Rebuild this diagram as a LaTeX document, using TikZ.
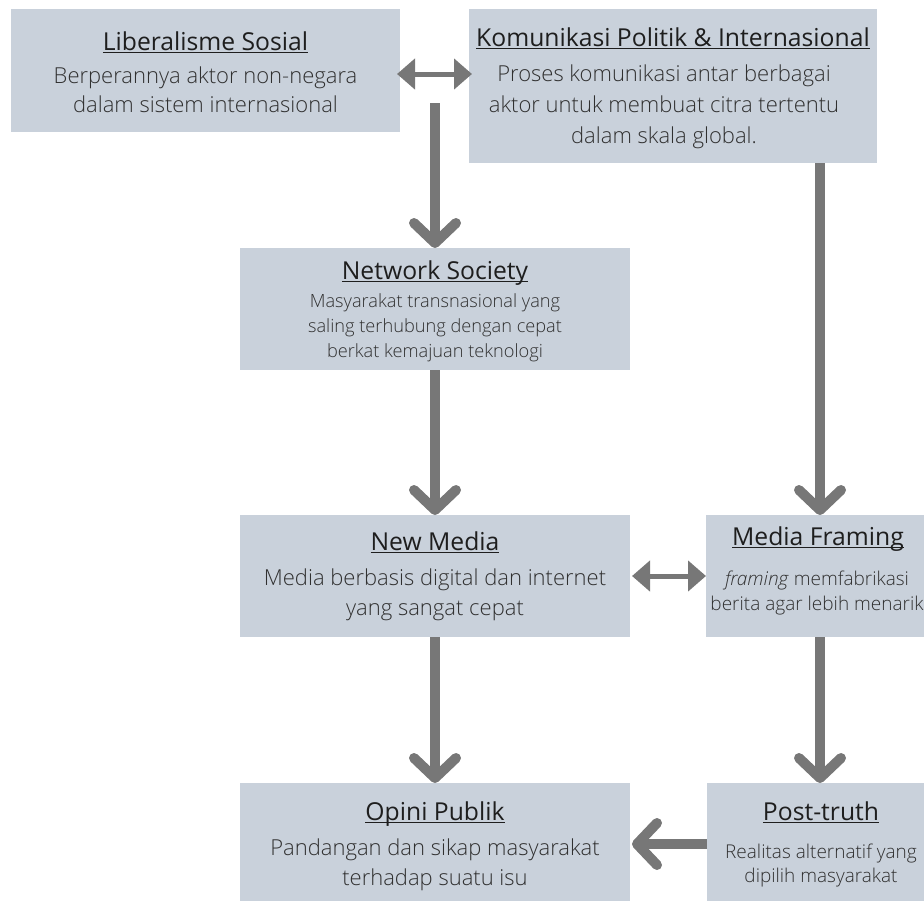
\documentclass[tikz,border=0pt]{standalone}
\usepackage{fontspec}
\setmainfont{Open Sans}
\newfontfamily\lightfont{Open Sans Light}
\usetikzlibrary{arrows.meta}
\definecolor{boxc}{HTML}{C9D1DB}
\definecolor{arrc}{HTML}{777777}
\definecolor{ttlc}{HTML}{1E1E1E}
\definecolor{txtc}{HTML}{303030}
\newcommand\ttl[1]{\setbox0\hbox{#1}\rlap{\vrule height -1.5pt depth 3.3pt width \wd0}\box0}
\begin{document}
\begin{tikzpicture}[x=1pt,y=-1pt,
  box/.style={fill=boxc, draw=none, inner sep=0pt, outer sep=0pt},
  ttlnode/.style={anchor=base, inner sep=0pt, text=ttlc, font=\fontsize{24.7}{28}\selectfont},
  bodybig/.style={anchor=base, inner sep=0pt, align=center, text=txtc, font=\lightfont\fontsize{22}{#1}\selectfont},
  bodysmall/.style={anchor=base, inner sep=0pt, align=center, text=txtc, font=\lightfont\fontsize{18.2}{#1}\selectfont},
  bodymid/.style={anchor=base, inner sep=0pt, align=center, text=txtc, font=\lightfont\fontsize{19}{#1}\selectfont},
  down/.style={draw=arrc, line width=10pt, -{Straight Barb[length=20pt, width=42pt, round]}},
  dbl/.style={draw=arrc, line width=5pt, {Triangle[length=18pt, width=30pt]}-{Triangle[length=18pt, width=30pt]}}
]
\useasboundingbox (0,0) rectangle (924,900);

% boxes
\node[box, minimum width=389pt, minimum height=123pt] (b1) at (205.5,70.5) {};
\node[box, minimum width=408pt, minimum height=154pt] (b2) at (673,86) {};
\node[box, minimum width=390pt, minimum height=122pt] (ns) at (435,309) {};
\node[box, minimum width=390pt, minimum height=122pt] (nm) at (435,576) {};
\node[box, minimum width=226pt, minimum height=122pt] (mf) at (819,576) {};
\node[box, minimum width=390pt, minimum height=122pt] (op) at (435,844) {};
\node[box, minimum width=226pt, minimum height=122pt] (pt) at (820,844) {};

% texts (body nodes anchored at the baseline of their last line)
\node[ttlnode] (b1t) at (205.5,50) {\ttl{Liberalisme Sosial}};
\node[bodybig=29pt] (b1d) at (205.5,112) {Berperannya aktor non-negara\\dalam sistem internasional};

\node[ttlnode] (b2t) at (673,46) {\ttl{Komunikasi Politik \& Internasional}};
\node[bodybig=31pt] (b2d) at (664,143) {Proses komunikasi antar berbagai\\aktor untuk membuat citra tertentu\\dalam skala global.};

\node[ttlnode] (nst) at (435,279) {\ttl{Network Society}};
\node[bodysmall=25pt] (nsd) at (435,357) {Masyarakat transnasional yang\\saling terhubung dengan cepat\\berkat kemajuan teknologi};

\node[ttlnode] (nmt) at (435,550) {\ttl{New Media}};
\node[bodybig=30pt] (nmd) at (435,615) {Media berbasis digital dan internet\\yang sangat cepat};

\node[ttlnode] (mft) at (818,545) {\ttl{Media Framing}};
\node[bodymid=25pt] (mfd) at (817,610) {\textit{framing} memfabrikasi\\berita agar lebih menarik};

\node[ttlnode] (opt) at (435,820) {\ttl{Opini Publik}};
\node[bodybig=30pt] (opd) at (435,885) {Pandangan dan sikap masyarakat\\terhadap suatu isu};

\node[ttlnode] (ptt) at (821,820) {\ttl{Post-truth}};
\node[bodymid=24pt] (ptd) at (821,882) {Realitas alternatif yang\\dipilih masyarakat};

% connectors
\coordinate (c1) at (435,103);
\coordinate (c4) at (820,163);
\draw[dbl] ([xshift=-3pt,yshift=-3.5pt]b1.east) -- ([xshift=3pt,yshift=12pt]b2.west);
\draw[down] (c1) -- (ns.north);
\draw[down] (ns.south) -- (nm.north);
\draw[down] (nm.south) -- (op.north);
\draw[down] (c4) -- (c4 |- mf.north);
\draw[down] (c4 |- mf.south) -- (c4 |- pt.north);
\draw[dbl] ([xshift=2pt]nm.east) -- (mf.west);
\draw[down] (pt.west) -- ([xshift=2pt]op.east);
\end{tikzpicture}
\end{document}
